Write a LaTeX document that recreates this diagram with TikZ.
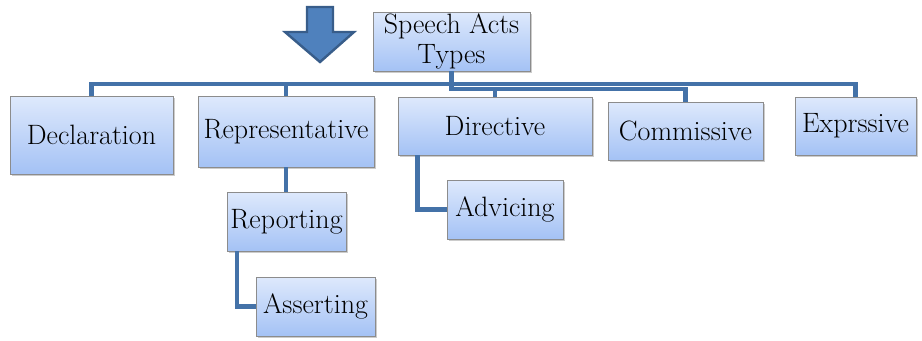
\documentclass[tikz,border=0pt]{standalone}
\usetikzlibrary{shadows}
\definecolor{linkblue}{RGB}{68,114,168}
\definecolor{arrowfill}{RGB}{79,129,189}
\definecolor{arrowedge}{RGB}{56,93,138}
\definecolor{boxedge}{RGB}{140,140,140}
\begin{document}
\begin{tikzpicture}[
    x=0.75pt, y=-0.75pt,
    acttype/.style={rectangle, draw=boxedge, line width=0.7pt, top color={rgb,255:red,222;green,233;blue,252}, bottom color={rgb,255:red,164;green,194;blue,245}, drop shadow={shadow xshift=1.2pt, shadow yshift=-1.5pt, opacity=0.4}, inner sep=1pt, text centered, font=\fontsize{21}{22.5}\selectfont},
    link/.style={draw=linkblue, line width=3.4pt, line join=miter}
]
    \useasboundingbox (0,0) rectangle (922,340);

    % Root
    \node [acttype, align=center, minimum width=117.75pt, minimum height=44.25pt] (root) at (451.5,41.5) {Speech Acts\\Types};

    % Big arrow
    \draw [fill=arrowfill, draw=arrowedge, line width=1.8pt, line join=miter]
        (307,7) -- (333,7) -- (333,32) -- (354,32) -- (320,62) -- (285,32) -- (307,32) -- cycle;

    % First level
    \node [acttype, minimum width=122.25pt, minimum height=58.5pt] (decl) at (91.5,135) {Declaration};
    \node [acttype, minimum width=132pt, minimum height=53.25pt] (rep) at (286,131.5) {Representative};
    \node [acttype, minimum width=145.5pt, minimum height=43.5pt] (dir) at (495,126) {Directive};
    \node [acttype, minimum width=116.25pt, minimum height=43.5pt] (comm) at (685.5,131) {Commissive};
    \node [acttype, minimum width=90.75pt, minimum height=43.5pt] (expr) at (855.5,126) {Exprssive};

    % Sub types
    \node [acttype, minimum width=89.25pt, minimum height=44.25pt] (report) at (286.5,221.5) {Reporting};
    \node [acttype, minimum width=89.25pt, minimum height=44.25pt] (assert) at (315.5,306.5) {Asserting};
    \node [acttype, minimum width=87pt, minimum height=44.25pt] (advice) at (505,209.5) {Advicing};

    % Bus lines
    \coordinate (bus) at (0,84);
    \coordinate (bustwo) at (0,89);

    % Connectors
    \draw [link] (decl.north) -- (decl.north |- bus) -| (expr.north);
    \draw [link] (rep.north) -- (rep.north |- bus);
    \draw [link] (root.south) -- (root.south |- bustwo) -| (comm.north);
    \draw [link] (dir.north) -- (dir.north |- bustwo);
    \draw [link] (rep.south) -- (rep.south |- report.north);
    \draw [link] ([xshift=8pt]report.south west) |- (assert.west);
    \draw [link] ([xshift=15pt]dir.south west) |- (advice.west);
\end{tikzpicture}
\end{document}
